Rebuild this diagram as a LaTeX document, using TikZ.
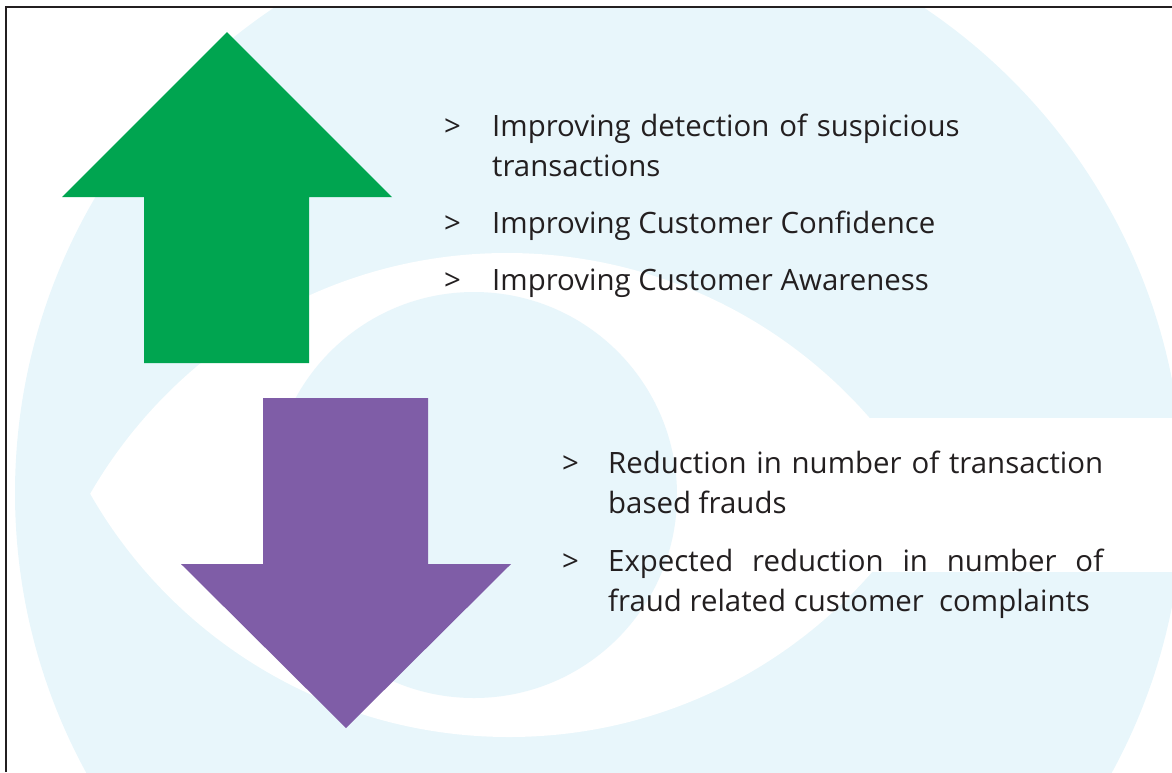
\documentclass[tikz,border=0pt]{standalone}
\usepackage{fontspec}
\setmainfont{Open Sans}
\usepackage{tikz}
\usepackage{xcolor}

\definecolor{eyecyan}{RGB}{232,246,251}
\definecolor{upgreen}{RGB}{0,165,80}
\definecolor{downpurple}{RGB}{127,93,167}
\definecolor{ink}{RGB}{35,31,32}

\begin{document}
\begin{tikzpicture}[x=1pt,y=1pt,
    point/.style={anchor=base west,
      inner sep=0pt,
      text=ink,
      font=\fontsize{29.4}{40}\selectfont}]
      %\draw[help lines] (0,0) grid (1172,-772); % Only for Development
      \useasboundingbox (0,0) rectangle (1172,-772);

      % the eye in the background
      \begin{scope}
        \clip (6,-7) rectangle (1172,-772);
        \fill[eyecyan] (599,-493) circle (584);
        \begin{scope}
          \clip (507,-734) circle (481);
          \fill[white] (509,-255) circle (482);
        \end{scope}
        \fill[white] (800,-418) rectangle (1172,-572);
        \fill[eyecyan] (474,-495) circle (203);
      \end{scope}
      \draw[line width=2pt,draw=ink] (6,-772) -- (6,-7) -- (1172,-7);

      % up arrow
      \fill[upgreen]
        (227,-32) -- (392,-197) -- (309,-197) -- (309,-363) --
        (144,-363) -- (144,-197) -- (62,-197) -- cycle;

      % down arrow
      \fill[downpurple]
        (346,-728) -- (511,-564) -- (428,-564) -- (428,-398) --
        (263,-398) -- (263,-564) -- (181,-564) -- cycle;

      % what goes up
      \node[point] (bu1) at (444,-136) {>};
      \node[point] (bu2) at (444,-233) {>};
      \node[point] (bu3) at (444,-290) {>};
      \node[point,text width=480pt,align=left] (up1) at (492,-136)
        {Improving detection of suspicious\\transactions};
      \node[point] (up2) at (492,-233) {Improving Customer Confidence};
      \node[point] (up3) at (492,-290) {Improving Customer Awareness};

      % what goes down
      \node[point] (bd1) at (562,-473) {>};
      \node[point] (bd2) at (562,-571) {>};
      \node[point,text width=495pt,align=justify] (down1) at (608,-473)
        {Reduction in number of transaction\linebreak based frauds};
      \node[point,text width=495pt,align=justify] (down2) at (608,-571)
        {Expected reduction in number of\linebreak fraud related customer\ \ complaints};

    \end{tikzpicture}
\end{document}
